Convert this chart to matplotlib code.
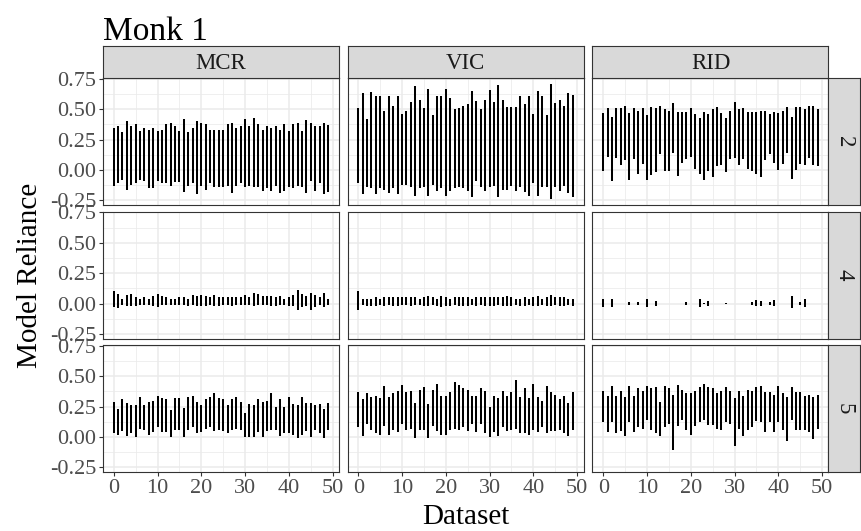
import numpy as np
import matplotlib
matplotlib.use("Agg")
import matplotlib.pyplot as plt

plt.rcParams['font.family'] = ['Liberation Serif', 'DejaVu Serif']

title = "Monk 1"
methods = ["MCR", "VIC", "RID"]
row_labels = ["2", "4", "5"]
dataset = list(range(50))
x_ticks = [0, 10, 20, 30, 40, 50]
y_ticks = [-0.25, 0.00, 0.25, 0.50, 0.75]
y_tick_labels = ["-0.25", "0.00", "0.25", "0.50", "0.75"]
x_label = "Dataset"
y_label = "Model Reliance"
N = None

# ---- row "2" ----
mcr2_hi = [0.35,0.36,0.31,0.40,0.36,0.38,0.32,0.35,0.33,0.35,
           0.32,0.33,0.38,0.39,0.36,0.32,0.42,0.31,0.35,0.40,
           0.39,0.38,0.33,0.33,0.33,0.33,0.38,0.39,0.35,0.36,
           0.42,0.36,0.43,0.38,0.33,0.36,0.35,0.36,0.33,0.38,
           0.32,0.38,0.39,0.32,0.41,0.39,0.36,0.36,0.39,0.37]
mcr2_lo = [-0.13,-0.11,-0.08,-0.16,-0.12,-0.11,-0.08,-0.09,-0.15,-0.15,
           -0.09,-0.11,-0.11,-0.13,-0.10,-0.10,-0.18,-0.13,-0.11,-0.20,
           -0.13,-0.16,-0.11,-0.14,-0.14,-0.14,-0.13,-0.19,-0.13,-0.11,
           -0.14,-0.13,-0.14,-0.14,-0.17,-0.15,-0.17,-0.13,-0.19,-0.17,
           -0.14,-0.15,-0.13,-0.14,-0.19,-0.09,-0.17,-0.11,-0.20,-0.18]
vic2_hi = [0.51,0.63,0.42,0.64,0.61,0.61,0.49,0.61,0.53,0.61,
           0.46,0.49,0.56,0.69,0.58,0.51,0.67,0.45,0.61,0.61,
           0.67,0.59,0.50,0.51,0.53,0.54,0.65,0.57,0.50,0.58,
           0.66,0.56,0.70,0.58,0.52,0.52,0.52,0.61,0.54,0.61,
           0.46,0.65,0.61,0.45,0.71,0.55,0.58,0.53,0.63,0.62]
vic2_lo = [-0.11,-0.20,-0.14,-0.15,-0.20,-0.15,-0.16,-0.19,-0.15,-0.20,
           -0.12,-0.12,-0.14,-0.21,-0.15,-0.14,-0.21,-0.12,-0.17,-0.15,
           -0.21,-0.17,-0.15,-0.14,-0.15,-0.17,-0.22,-0.09,-0.14,-0.17,
           -0.14,-0.13,-0.22,-0.16,-0.16,-0.13,-0.17,-0.14,-0.18,-0.21,
           -0.11,-0.21,-0.14,-0.14,-0.24,-0.14,-0.17,-0.13,-0.19,-0.22]
rid2_hi = [0.47,0.51,0.44,0.51,0.51,0.53,0.47,0.51,0.49,0.51,
           0.45,0.52,0.51,0.53,0.50,0.49,0.55,0.48,0.48,0.48,
           0.51,0.46,0.43,0.48,0.46,0.50,0.52,0.47,0.43,0.49,
           0.56,0.50,0.51,0.48,0.48,0.48,0.49,0.49,0.46,0.48,
           0.47,0.49,0.52,0.44,0.52,0.52,0.50,0.53,0.53,0.50]
rid2_lo = [-0.01,0.11,-0.09,0.10,0.04,0.08,-0.08,0.09,-0.03,0.05,
           -0.08,-0.04,-0.02,0.13,-0.01,-0.01,0.14,-0.05,0.06,0.09,
           0.11,0.01,-0.03,-0.08,-0.01,-0.06,0.03,0.04,-0.02,0.09,
           0.10,0.04,0.09,0.01,-0.01,-0.03,-0.06,0.08,0.13,0.06,
           0.00,0.05,0.14,-0.07,0.00,0.05,0.04,0.10,0.04,0.03]

# ---- row "4" ----
mcr4_hi = [0.10,0.075,0.035,0.07,0.075,0.05,0.04,0.05,0.04,0.065,
           0.075,0.065,0.055,0.04,0.035,0.05,0.055,0.04,0.07,0.06,
           0.07,0.065,0.055,0.07,0.05,0.05,0.05,0.05,0.05,0.055,
           0.07,0.055,0.09,0.08,0.065,0.065,0.065,0.055,0.065,0.04,
           0.055,0.07,0.11,0.075,0.065,0.09,0.07,0.055,0.09,0.04]
mcr4_lo = [-0.03,-0.035,-0.015,-0.02,-0.02,-0.02,-0.015,-0.015,-0.015,-0.02,
           -0.03,-0.015,-0.015,-0.015,-0.015,-0.015,-0.015,-0.02,-0.015,-0.02,
           -0.02,-0.02,-0.015,-0.02,-0.02,-0.015,-0.015,-0.02,-0.015,-0.015,
           -0.015,-0.015,-0.02,-0.015,-0.015,-0.015,-0.02,-0.02,-0.015,-0.015,
           -0.02,-0.02,-0.05,-0.03,-0.02,-0.05,-0.03,-0.015,-0.03,-0.015]
vic4_hi = [0.10,0.035,0.04,0.04,0.05,0.04,0.05,0.05,0.05,0.05,
           0.05,0.05,0.055,0.05,0.04,0.05,0.065,0.05,0.035,0.065,
           0.05,0.035,0.05,0.055,0.05,0.05,0.035,0.05,0.05,0.05,
           0.05,0.05,0.05,0.05,0.065,0.055,0.035,0.04,0.055,0.04,
           0.055,0.065,0.04,0.055,0.07,0.05,0.055,0.055,0.04,0.04]
vic4_lo = [-0.05,-0.015,-0.02,-0.02,-0.02,-0.015,-0.02,-0.015,-0.02,-0.02,
           -0.015,-0.015,-0.02,-0.015,-0.015,-0.02,-0.02,-0.015,-0.02,-0.03,
           -0.02,-0.02,-0.015,-0.02,-0.02,-0.02,-0.015,-0.02,-0.015,-0.02,
           -0.02,-0.02,-0.015,-0.02,-0.02,-0.02,-0.015,-0.02,-0.02,-0.015,
           -0.02,-0.02,-0.015,-0.02,-0.02,-0.015,-0.02,-0.02,-0.015,-0.02]
rid4_hi = [0.04,N,0.04,N,N,N,0.015,N,0.01,N,
           0.035,N,0.02,N,N,N,N,N,N,0.015,
           N,N,0.035,0.003,0.02,N,N,N,0.003,N,
           N,N,N,N,0.01,0.03,0.02,N,0.01,0.03,
           N,N,N,0.065,N,0.015,0.035,N,N,N]
rid4_lo = [-0.03,N,-0.03,N,N,N,-0.015,N,-0.01,N,
           -0.03,N,-0.02,N,N,N,N,N,N,-0.015,
           N,N,-0.03,-0.005,-0.02,N,N,N,-0.005,N,
           N,N,N,N,-0.015,-0.02,-0.02,N,-0.015,-0.02,
           N,N,N,-0.04,N,-0.015,-0.03,N,N,N]

# ---- row "5" ----
mcr5_hi = [0.29,0.23,0.31,0.28,0.26,0.26,0.33,0.26,0.29,0.30,
           0.34,0.32,0.31,0.22,0.32,0.32,0.24,0.33,0.34,0.29,
           0.26,0.31,0.33,0.36,0.32,0.31,0.26,0.31,0.33,0.29,
           0.20,0.27,0.26,0.31,0.29,0.30,0.36,0.25,0.31,0.25,
           0.33,0.27,0.26,0.33,0.28,0.28,0.26,0.27,0.23,0.28]
mcr5_lo = [0.03,0.02,0.05,0.01,0.03,0.00,0.07,0.06,0.02,0.04,
           0.08,0.04,0.04,0.00,0.06,0.06,0.00,0.06,0.08,0.03,
           0.04,0.07,0.08,0.05,0.06,0.05,0.03,0.06,0.07,0.06,
           0.00,0.00,0.00,0.04,0.00,0.05,0.06,0.06,0.01,0.03,
           0.03,0.02,-0.01,0.02,0.05,0.00,0.06,0.03,-0.01,0.06]
vic5_hi = [0.37,0.31,0.36,0.33,0.34,0.32,0.42,0.33,0.36,0.38,
           0.43,0.37,0.38,0.28,0.39,0.41,0.27,0.39,0.44,0.34,
           0.34,0.37,0.45,0.43,0.40,0.39,0.34,0.34,0.40,0.375,
           0.25,0.34,0.32,0.375,0.34,0.37,0.47,0.33,0.40,0.32,
           0.44,0.33,0.30,0.42,0.37,0.35,0.31,0.34,0.28,0.37]
vic5_lo = [0.08,0.01,0.11,0.06,0.03,0.02,0.09,0.02,0.06,0.04,
           0.11,0.06,0.07,-0.01,0.06,0.06,-0.01,0.09,0.05,0.02,
           0.02,0.06,0.07,0.06,0.08,0.05,0.11,0.04,0.11,0.03,
           0.00,0.04,0.01,0.08,0.05,0.06,0.07,0.03,0.03,0.02,
           0.06,0.04,0.08,0.03,0.05,0.05,0.06,0.03,0.01,0.06]
rid5_hi = [0.38,0.34,0.42,0.34,0.375,0.33,0.42,0.34,0.40,0.375,
           0.42,0.40,0.41,0.29,0.42,0.40,0.35,0.43,0.39,0.36,
           0.36,0.38,0.41,0.44,0.41,0.40,0.36,0.375,0.41,0.375,
           0.32,0.38,0.34,0.39,0.38,0.41,0.42,0.37,0.37,0.35,
           0.42,0.36,0.33,0.41,0.37,0.37,0.34,0.35,0.33,0.35]
rid5_lo = [0.125,0.04,0.12,0.03,0.05,0.01,0.125,0.04,0.08,0.07,
           0.14,0.06,0.03,0.01,0.08,0.11,-0.11,0.09,0.14,0.06,
           0.02,0.09,0.125,0.14,0.10,0.10,0.07,0.06,0.125,0.11,
           -0.07,0.07,0.01,0.06,0.08,0.13,0.12,0.04,0.12,0.04,
           0.12,0.06,-0.03,0.14,0.06,0.06,0.06,0.04,-0.02,0.07]

panels = [
    [(mcr2_lo, mcr2_hi), (vic2_lo, vic2_hi), (rid2_lo, rid2_hi)],
    [(mcr4_lo, mcr4_hi), (vic4_lo, vic4_hi), (rid4_lo, rid4_hi)],
    [(mcr5_lo, mcr5_hi), (vic5_lo, vic5_hi), (rid5_lo, rid5_hi)],
]

def arr(v):
    return np.array([np.nan if a is None else a for a in v], dtype=float)

all_vals = np.concatenate([np.concatenate([arr(lo), arr(hi)]) for row in panels for lo, hi in row])
ymin, ymax = np.nanmin(all_vals), np.nanmax(all_vals)
yr = ymax - ymin
ylim = (ymin - 0.05 * yr, ymax + 0.05 * yr)
xr = max(dataset) - min(dataset)
xlim = (min(dataset) - 0.05 * xr, max(dataset) + 0.05 * xr)

W, H = 862, 531
fig = plt.figure(figsize=(W / 100, H / 100), dpi=100)

col_left = [103, 347.5, 592.5]
pw = 236
row_top = [78, 211.5, 345]
ph = 127
strip = 32

def fig_rect(x0, y0, w, h):
    return [x0 / W, 1 - (y0 + h) / H, w / W, h / H]

tick_fs = 16
strip_fs = 16.5
grey20 = "#333333"
grey30 = "#4D4D4D"
grid_c = "#EBEBEB"

for r in range(3):
    for c in range(3):
        ax = fig.add_axes(fig_rect(col_left[c], row_top[r], pw, ph))
        lo, hi = panels[r][c]
        lo, hi = arr(lo), arr(hi)
        x = np.array(dataset, dtype=float)
        m = ~np.isnan(lo)
        ax.vlines(x[m], lo[m], hi[m], color="black", linewidth=1.45, zorder=3)
        ax.set_xlim(xlim)
        ax.set_ylim(ylim)
        ax.set_xticks(x_ticks)
        ax.set_yticks(y_ticks)
        ax.set_xticks([5, 15, 25, 35, 45], minor=True)
        ax.set_yticks([-0.125, 0.125, 0.375, 0.625], minor=True)
        ax.grid(which="major", color=grid_c, linewidth=1.1, zorder=0)
        ax.grid(which="minor", color=grid_c, linewidth=0.55, zorder=0)
        ax.set_axisbelow(True)
        ax.tick_params(which="minor", length=0)
        ax.tick_params(which="major", length=3.2, width=0.8, color=grey20,
                       labelsize=tick_fs, labelcolor=grey30, pad=1.5)
        for s in ax.spines.values():
            s.set_color(grey20)
            s.set_linewidth(0.8)
        if c == 0:
            ax.set_yticklabels(y_tick_labels)
        else:
            ax.tick_params(axis="y", left=False, labelleft=False)
        if r == 2:
            ax.set_xticklabels([str(t) for t in x_ticks])
        else:
            ax.tick_params(axis="x", bottom=False, labelbottom=False)

# top strips
for c in range(3):
    sax = fig.add_axes(fig_rect(col_left[c], row_top[0] - strip, pw, strip))
    sax.set_xticks([]); sax.set_yticks([])
    sax.set_facecolor("#D9D9D9")
    for s in sax.spines.values():
        s.set_color(grey20); s.set_linewidth(0.8)
    sax.text(0.5, 0.45, methods[c], ha="center", va="center", fontsize=strip_fs,
             color="#1A1A1A", transform=sax.transAxes)

# right strips
for r in range(3):
    sax = fig.add_axes(fig_rect(col_left[2] + pw, row_top[r], strip, ph))
    sax.set_xticks([]); sax.set_yticks([])
    sax.set_facecolor("#D9D9D9")
    for s in sax.spines.values():
        s.set_color(grey20); s.set_linewidth(0.8)
    sax.text(0.5, 0.5, row_labels[r], ha="center", va="center", fontsize=strip_fs,
             color="#1A1A1A", rotation=-90, transform=sax.transAxes)

fig.text(103 / W, 1 - 40 / H, title, ha="left", va="baseline", fontsize=24, color="black")
fig.text(30 / W, 1 - (row_top[0] + row_top[2] + ph) / 2 / H, y_label, rotation=90,
         ha="center", va="center", fontsize=21, color="black")
fig.text((col_left[0] + col_left[2] + pw) / 2 / W, 1 - 517 / H, x_label,
         ha="center", va="center", fontsize=21, color="black")

fig.savefig("out.png", dpi=100)
